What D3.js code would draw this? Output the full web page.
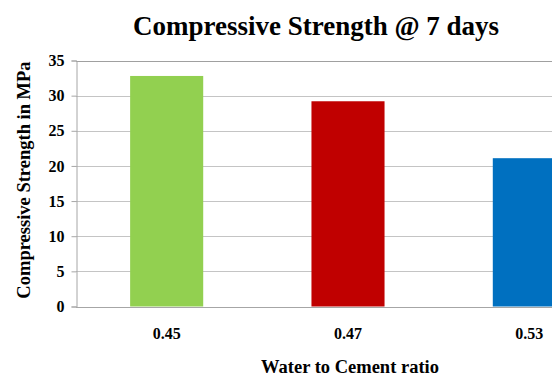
<!DOCTYPE html>
<html>
<head>
<meta charset="utf-8">
<script src="https://cdn.jsdelivr.net/npm/d3@7"></script>
<style>
  html, body { margin: 0; padding: 0; background: #fff; overflow: hidden; }
  svg { display: block; }
  svg text { font-family: "Liberation Serif", "Times New Roman", serif; font-weight: bold; fill: #000; }
</style>
</head>
<body>
<svg id="chart" width="552" height="376"></svg>
<script>
// Compressive strength at 7 days for each water-to-cement ratio
const categories = ["0.45", "0.47", "0.53"];
const strengths = [32.8, 29.2, 21.1];
const barColors = ["#92D050", "#C00000", "#0070C0"];
const yTicks = [0, 5, 10, 15, 20, 25, 30, 35];

const svg = d3.select("#chart");
const plotLeft = 76, plotRight = 620, plotTop = 60.5, plotBottom = 306.5;

const x = d3.scaleBand().domain(categories).range([plotLeft, plotRight]).paddingInner(0.597).paddingOuter(0.2985);
const y = d3.scaleLinear().domain([0, 35]).range([plotBottom, plotTop]);

// horizontal gridlines
svg.append("g").selectAll("line").data(yTicks.filter(d => d > 0)).join("line")
  .attr("x1", plotLeft).attr("x2", 552)
  .attr("y1", d => Math.round(y(d)) + 0.5).attr("y2", d => Math.round(y(d)) + 0.5)
  .attr("stroke", d => d === 35 ? "#a0a0a0" : "#c4c4c4").attr("stroke-width", 1);

// bars
svg.append("g").selectAll("rect").data(categories).join("rect")
  .attr("x", d => x(d)).attr("width", x.bandwidth())
  .attr("y", (d, i) => y(strengths[i])).attr("height", (d, i) => y(0) - y(strengths[i]))
  .attr("fill", (d, i) => barColors[i]);

// value axis
const yAxis = svg.append("g").attr("transform", `translate(${plotLeft + 0.5},0)`)
  .call(d3.axisLeft(y).tickValues(yTicks).tickSizeOuter(0).tickSize(5).tickPadding(7));
yAxis.attr("font-family", null).attr("font-size", null);
yAxis.select(".domain").attr("stroke", "#a6a6a6");
yAxis.selectAll(".tick line").attr("stroke", "#a6a6a6");
yAxis.selectAll(".tick text").style("font-size", "16px").attr("fill", "#000");

// category axis baseline
svg.append("line").attr("x1", plotLeft).attr("x2", 552)
  .attr("y1", Math.round(y(0)) + 0.5).attr("y2", Math.round(y(0)) + 0.5)
  .attr("stroke", "#a6a6a6");

// category labels
svg.append("g").selectAll("text").data(categories).join("text")
  .attr("x", d => x(d) + x.bandwidth() / 2).attr("y", 339)
  .attr("text-anchor", "middle").style("font-size", "16px")
  .text(d => d);

// titles
svg.append("text").attr("x", 316).attr("y", 35).attr("text-anchor", "middle")
  .style("font-size", "27px").text("Compressive Strength @ 7 days");
svg.append("text").attr("x", 350).attr("y", 373).attr("text-anchor", "middle")
  .style("font-size", "18.5px").text("Water to Cement ratio");
svg.append("text").attr("transform", "translate(30,180) rotate(-90)").attr("text-anchor", "middle")
  .style("font-size", "18.5px").text("Compressive Strength in MPa");
</script>
</body>
</html>
